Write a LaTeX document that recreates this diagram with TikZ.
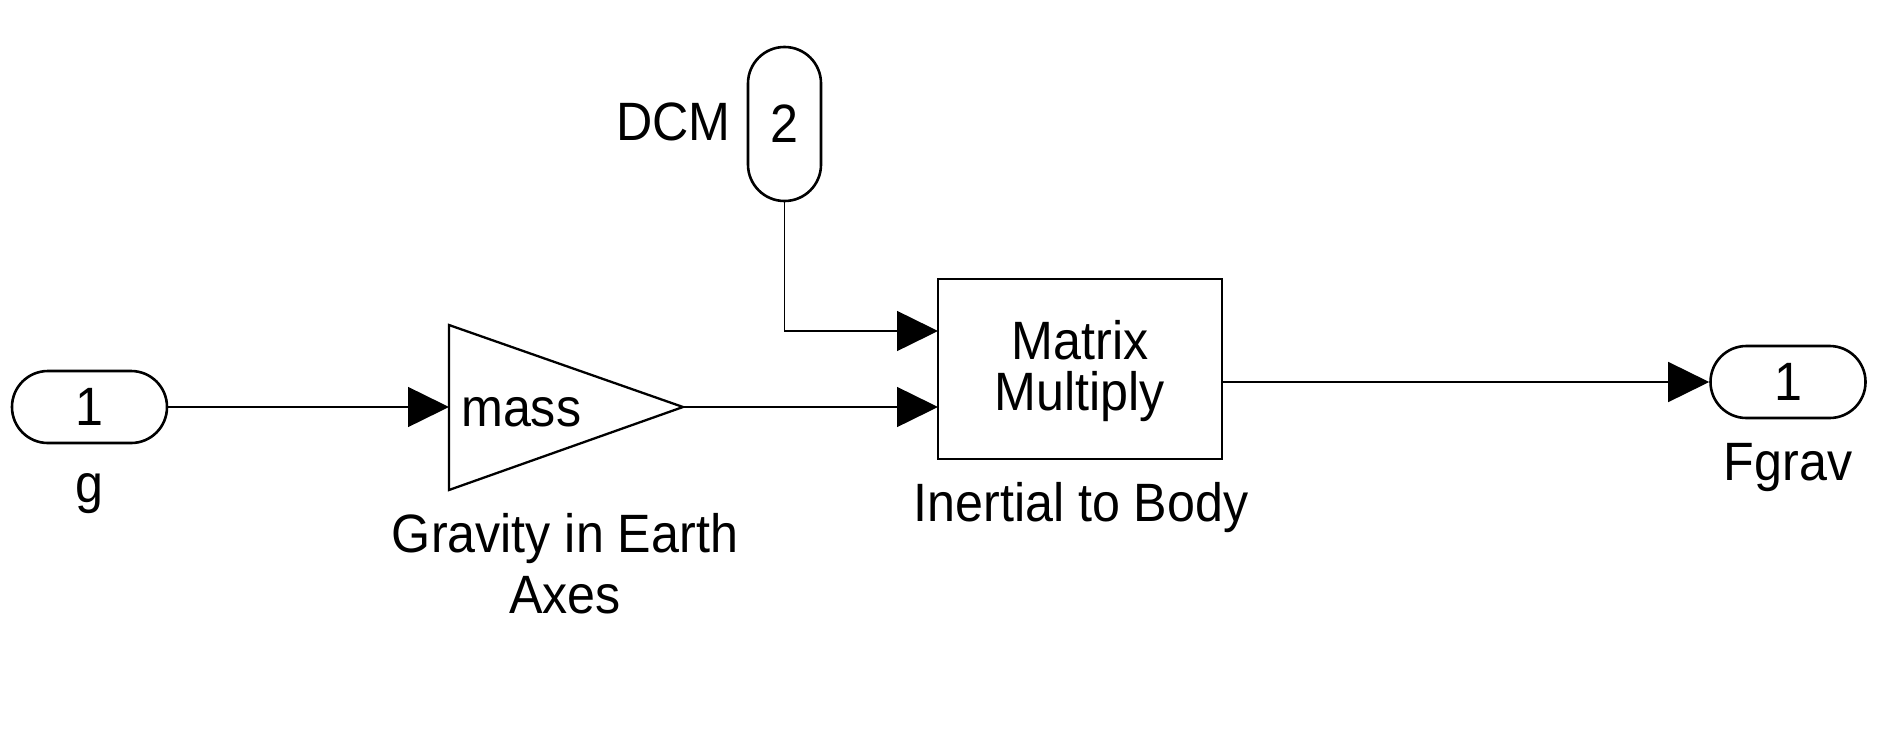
\documentclass[tikz,border=0pt]{standalone}
\usepackage{fontspec}
\setmainfont[FakeStretch=0.93]{Liberation Sans}
\usetikzlibrary{arrows.meta}
\begin{document}
\begin{tikzpicture}[x=1pt,y=-1pt,
  conn/.style={line width=1.5pt,-{Triangle[length=41pt,width=40pt]}},
  blk/.style={draw,line width=2.6pt},
  port/.style={draw,line width=2.6pt,rounded corners=35.9pt,minimum width=155pt,minimum height=72pt,inner sep=0pt,font=\fontsize{54}{62}\selectfont},
  vport/.style={draw,line width=2.6pt,rounded corners=36.4pt,minimum width=73pt,minimum height=154pt,inner sep=0pt,font=\fontsize{54}{62}\selectfont},
  lbl/.style={inner sep=0pt,font=\fontsize{54}{62}\selectfont}]
\fill[white] (0,0) rectangle (1879,742);
\useasboundingbox (0,0) rectangle (1879,742);
% inport g
\node[port] (inp) at (89.5,407) {1};
\node[lbl,anchor=base] (glbl) at (89.5,502) {g};
% gain
\draw[blk,line width=2.3pt] (449,325) -- (683,407) -- (449,490) -- cycle;
\coordinate (gin) at (449,407);
\coordinate (gout) at (683,407);
\node[lbl,anchor=base west] (masst) at (461,426) {mass};
\node[lbl,anchor=base] (grav1) at (565,552) {Gravity in Earth};
\node[lbl,anchor=base] (grav2) at (565,613) {Axes};
% DCM port
\node[vport] (dcm) at (784.5,124) {2};
\node[lbl,anchor=base east] (dcml) at (731,140) {DCM};
% matrix multiply
\node[blk,minimum width=284pt,minimum height=180pt] (mm) at (1080,369) {};
\node[lbl,anchor=base] (mmt1) at (1080,359) {Matrix};
\node[lbl,anchor=base] (mmt2) at (1080,410) {Multiply};
\node[lbl,anchor=base] (mml) at (1081,521) {Inertial to Body};
\coordinate (mmin1) at (938,331);
\coordinate (mmin2) at (938,407);
\coordinate (mmout) at (1222,382);
% outport
\node[port] (outp) at (1788,382) {1};
\node[lbl,anchor=base] (fl) at (1788,480) {Fgrav};
% connectors
\draw[conn] (inp.east) -- (gin);
\draw[conn] (gout) -- (mmin2);
\draw[conn] (dcm.south) |- (mmin1);
\draw[conn] (mmout) -- (outp.west);
\end{tikzpicture}
\end{document}
